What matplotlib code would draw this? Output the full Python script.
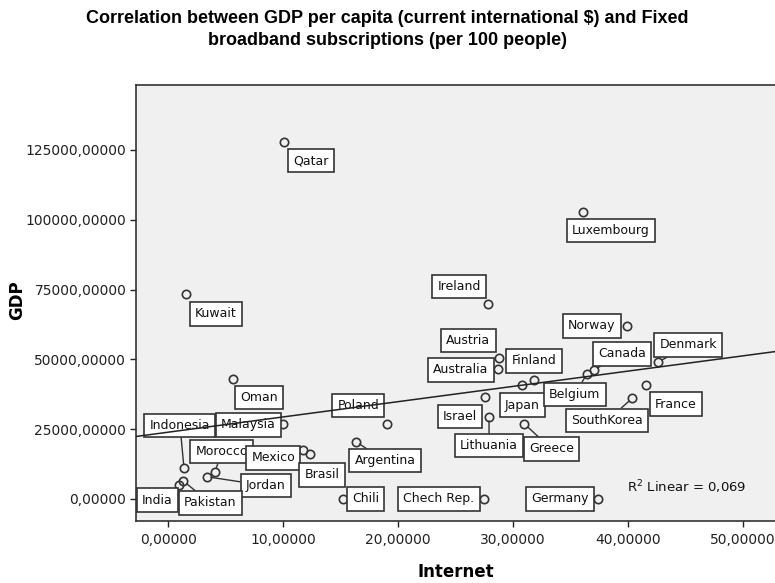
import numpy as np
import matplotlib
matplotlib.use("Agg")
import matplotlib.pyplot as plt
from matplotlib.ticker import FuncFormatter

# data (broadband per 100 people, GDP per capita)
countries = ["Qatar", "Kuwait", "Luxembourg", "Ireland", "Norway", "Austria",
             "Australia", "Finland", "Japan", "Belgium", "Canada", "Denmark",
             "France", "SouthKorea", "Israel", "Lithuania", "Greece", "Poland",
             "Oman", "Malaysia", "Indonesia", "Morocco", "Jordan", "India",
             "Pakistan", "Mexico", "Brasil", "Argentina", "Chili", "Chech Rep.",
             "Germany"]
internet = [10.06, 1.52, 36.08, 27.86, 39.91, 28.82,
            28.68, 31.84, 30.82, 36.43, 37.06, 42.68,
            41.59, 40.40, 27.57, 27.92, 31.01, 19.06,
            5.64, 10.00, 1.35, 4.05, 3.33, 0.94,
            1.29, 11.74, 12.33, 16.33, 15.17, 27.48,
            37.44]
gdp = [127990, 73430, 102910, 69740, 61970, 50400,
       46570, 42630, 40830, 44670, 46210, 49070,
       40830, 36070, 36430, 29480, 26870, 26760,
       42880, 26870, 11000, 9780, 7990, 5010,
       6450, 17550, 16120, 20520, 0, 0,
       0]
r2_text = "R$^2$ Linear = 0,069"

# label box offsets from the point, in pixels (dx right, dy down)
label_offsets = {
    "Qatar": (27, 19), "Kuwait": (30, 20), "Luxembourg": (28, 19),
    "Ireland": (-29, -18), "Norway": (-35, 0), "Austria": (-31, -18),
    "Australia": (-37, 1), "Finland": (0, -19), "Japan": (0, 20),
    "Belgium": (-12, 20), "Canada": (28, -16), "Denmark": (30, -17),
    "France": (30, 19), "SouthKorea": (-25, 22), "Israel": (-25, 19),
    "Lithuania": (0, 29), "Greece": (27, 25), "Poland": (-29, -19),
    "Oman": (26, 18), "Malaysia": (-35, 1), "Indonesia": (-4, -43),
    "Morocco": (7, -20), "Jordan": (59, 9), "India": (-22, 15),
    "Pakistan": (27, 22), "Mexico": (-30, 8), "Brasil": (12, 21),
    "Argentina": (29, 19), "Chili": (23, 0), "Chech Rep.": (-45, 0),
    "Germany": (-38, 0),
}
leaders = {"Indonesia", "Morocco", "Jordan", "India", "Pakistan", "Lithuania",
           "Greece", "Canada", "Denmark", "SouthKorea", "Argentina", "Belgium"}

fig = plt.figure(figsize=(7.75, 5.83), dpi=100)
ax = fig.add_axes([136 / 775, 1 - 521 / 583, 1 - 136 / 775, (521 - 85) / 583])
ax.set_facecolor("#f0f0f0")

x = np.array(internet)
y = np.array(gdp)

ax.plot(x, y, "o", ms=6, mfc="none", mec="#333333", mew=1.2, zorder=2)

# linear fit line
slope, icpt = np.polyfit(x, y, 1)
xl = np.array([-5, 60])
ax.plot(xl, icpt + slope * xl, color="#222222", lw=1.1, zorder=5)

for name, xi, yi in zip(countries, internet, gdp):
    dx, dy = label_offsets[name]
    kw = {}
    if name in leaders:
        kw["arrowprops"] = dict(arrowstyle="-", color="#333333", lw=1,
                                shrinkA=0, shrinkB=3)
    ax.annotate(name, (xi, yi), xytext=(dx, -dy), textcoords="offset pixels",
                ha="center", va="center", fontsize=9, family="DejaVu Sans",
                color="#111111", zorder=3,
                bbox=dict(boxstyle="square,pad=0.42", fc="white",
                          ec="#333333", lw=1.2), **kw)

ax.text(0.862, 0.078, r2_text, transform=ax.transAxes, ha="center",
        va="center", fontsize=9.5, color="#111111")

ax.set_xlim(-2.83, 52.83)
ax.set_ylim(-7880, 148280)
ax.set_xticks(np.arange(0, 51, 10))
ax.set_yticks(np.arange(0, 125001, 25000))
fmt = FuncFormatter(lambda v, p: f"{v:.5f}".replace(".", ","))
ax.xaxis.set_major_formatter(fmt)
ax.yaxis.set_major_formatter(fmt)
ax.tick_params(direction="out", length=4, width=1, labelsize=10,
               pad=3, colors="#222222")
ax.tick_params(axis="x", pad=5)

for side in ["left", "bottom", "top"]:
    ax.spines[side].set_color("#333333")
    ax.spines[side].set_linewidth(1.2)
ax.spines["right"].set_visible(False)

ax.set_xlabel("Internet", fontsize=12, fontweight="bold", labelpad=11)
fig.text(17 / 775, 1 - 300 / 583, "GDP", rotation=90, ha="center",
         va="center", fontsize=12, fontweight="bold")

fig.text(0.5, 1 - 10 / 583,
         "Correlation between GDP per capita (current international $) and Fixed\n"
         "broadband subscriptions (per 100 people)",
         ha="center", va="top", fontsize=13, fontweight="bold",
         family="Liberation Sans", linespacing=1.4)

fig.savefig("out.png", dpi=100)
